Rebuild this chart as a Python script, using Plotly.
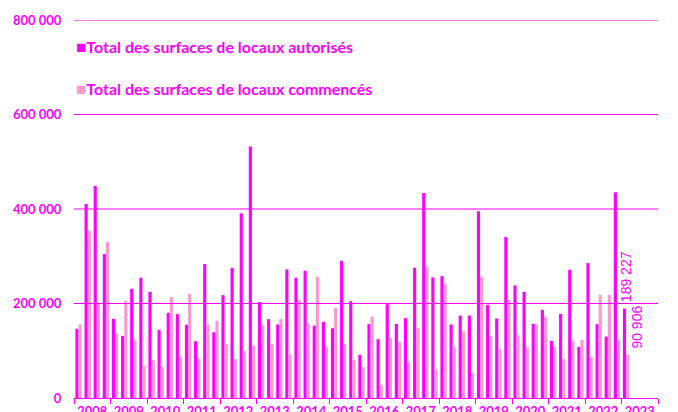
import plotly.graph_objects as go

# Quarterly values, 2008 T1 .. 2023 T1
autorises = [
    146300, 410600, 448800, 304600,   # 2008
    167500, 131400, 231100, 254400,   # 2009
    224700, 144200, 180200, 177400,   # 2010
    154800, 120100, 283400, 139200,   # 2011
    217700, 275600, 390800, 532100,   # 2012
    202800, 166800, 155500, 272100,   # 2013
    254400, 269300, 153400, 161100,   # 2014
    147700, 290400, 204900, 91200,    # 2015
    156200, 124400, 198600, 156900,   # 2016
    168900, 275600, 433900, 255100,   # 2017
    257900, 155500, 174500, 174500,   # 2018
    395000, 197200, 168200, 340600,   # 2019
    238200, 224700, 156900, 186600,   # 2020
    120800, 178100, 271400, 108100,   # 2021
    285500, 156200, 130000, 435300,   # 2022
    189227,                           # 2023
]
commences = [
    155500, 354000, 200500, 330700,   # 2008
    136400, 205600, 123700, 67800,    # 2009
    80600, 65700, 213400, 87600,      # 2010
    219800, 84100, 155500, 163200,    # 2011
    113800, 82700, 99600, 111000,     # 2012
    154800, 114500, 167500, 92600,    # 2013
    207100, 156900, 256500, 107400,   # 2014
    190800, 114500, 80600, 65700,     # 2015
    172400, 27600, 127200, 118700,    # 2016
    74900, 148400, 277700, 60100,     # 2017
    241700, 107400, 141300, 52300,    # 2018
    257200, 131400, 103900, 207100,   # 2019
    132900, 107400, 155500, 172400,   # 2020
    108100, 82700, 121500, 123000,    # 2021
    86900, 218400, 218400, 123000,    # 2022
    90906,                            # 2023
]
years = [str(y) for y in range(2008, 2024)]
y_ticks = [0, 200000, 400000, 600000, 800000]
y_ticktext = ["0", "200 000", "400 000", "600 000", "800 000"]
series_names = ["Total des surfaces de locaux autorisés",
                "Total des surfaces de locaux commencés"]

MAG = "#FF00FF"
PINK = "#FF99CC"
FONT = "Lato"

quarters = list(range(len(autorises)))
n_slots = 4 * len(years)

fig = go.Figure()
fig.add_trace(go.Bar(x=quarters, y=autorises, name=series_names[0],
                     marker=dict(color=MAG, line=dict(width=0))))
fig.add_trace(go.Bar(x=quarters, y=commences, name=series_names[1],
                     marker=dict(color=PINK, line=dict(width=0))))

# grid lines drawn above bars
for v in y_ticks[1:]:
    fig.add_hline(y=v, line=dict(color=MAG, width=1), layer="above")

def fmt(v):
    return f"{v:,}".replace(",", " ")

# value labels for last quarter
fig.add_annotation(x=quarters[-1], y=autorises[-1], xref="x", yref="y",
                   text=fmt(autorises[-1]), textangle=-90, showarrow=False,
                   xanchor="center", yanchor="bottom", xshift=0, yshift=4,
                   font=dict(family="Liberation Sans", size=14, color=MAG))
fig.add_annotation(x=quarters[-1], y=commences[-1], xref="x", yref="y",
                   text=fmt(commences[-1]), textangle=-90, showarrow=False,
                   xanchor="center", yanchor="bottom", xshift=10, yshift=4,
                   font=dict(family="Liberation Sans", size=14, color=MAG))

# legend as text
fig.add_annotation(x=0.0, y=0.931, xref="paper", yref="paper",
                   text=f'<span style="color:{MAG};font-size:17px">■</span>{series_names[0]}',
                   showarrow=False, xanchor="left", yanchor="middle",
                   font=dict(family=FONT, size=16, color=MAG, weight="bold"))
fig.add_annotation(x=0.0, y=0.818, xref="paper", yref="paper",
                   text=f'<span style="color:{PINK};font-size:17px">■</span>{series_names[1]}',
                   showarrow=False, xanchor="left", yanchor="middle",
                   font=dict(family=FONT, size=16, color=MAG, weight="bold"))

# page body has an 8px default margin: figure sized to fill the rest
fig.update_layout(
    width=670, height=404,
    margin=dict(l=66, r=20, t=12, b=14),
    paper_bgcolor="white", plot_bgcolor="white",
    barmode="group", bargap=0.31, bargroupgap=0.0,
    showlegend=False,
    xaxis=dict(
        range=[-0.5, n_slots - 0.5],
        automargin=False,
        tickmode="array",
        tickvals=[4 * i + 1.5 for i in range(len(years))],
        ticktext=years,
        ticks="outside", ticklen=1, tickcolor="rgba(0,0,0,0)",
        tickfont=dict(family=FONT, size=13, color=MAG, weight="bold"),
        showgrid=False, zeroline=False,
        showline=True, linecolor=MAG, linewidth=1,
        minor=dict(tick0=-0.5, dtick=4, ticks="outside", ticklen=5,
                   tickcolor=MAG, tickwidth=1, showgrid=False),
    ),
    yaxis=dict(
        range=[0, 800000],
        automargin=False,
        tickmode="array", tickvals=y_ticks, ticktext=y_ticktext,
        ticks="outside", ticklen=9, tickcolor="rgba(0,0,0,0)",
        tickfont=dict(family=FONT, size=13, color=MAG, weight="bold"),
        showgrid=False, zeroline=False, showline=False,
    ),
)

fig.write_html("out.html")
